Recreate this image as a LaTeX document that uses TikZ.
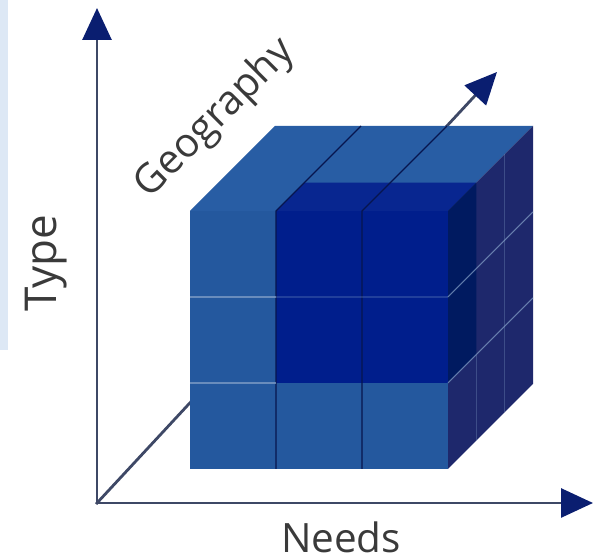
\documentclass[tikz,border=0pt]{standalone}
\usepackage{fontspec}
\setmainfont{Open Sans}
\usetikzlibrary{arrows.meta,positioning}

\definecolor{faceblue}{RGB}{36,88,158}
\definecolor{topblue}{RGB}{40,93,164}
\definecolor{sideblue}{RGB}{30,40,108}
\definecolor{deepblue}{RGB}{0,30,140}
\definecolor{deeptop}{RGB}{8,38,144}
\definecolor{deepside}{RGB}{0,26,96}
\definecolor{axisgray}{RGB}{62,72,102}
\definecolor{headblue}{RGB}{10,30,112}
\definecolor{stripblue}{RGB}{221,232,245}
\definecolor{labelgray}{RGB}{58,58,58}

\begin{document}
\begin{tikzpicture}
[line join=round,
axisline/.style={draw=axisgray, line width=1.6pt, line cap=rect, -{Triangle[length=6.4mm, width=5.8mm, color=headblue]}},
axislabel/.style={text=labelgray, font=\fontsize{23}{23}\selectfont, inner sep=0pt},
seam/.style={draw=headblue!70!black, line width=0.7pt},
glint/.style={draw=faceblue!55!white, line width=0.6pt, opacity=0.7}]

\useasboundingbox (0,0) rectangle (12.14,11.2);
\fill[stripblue] (0,4.2) rectangle (0.16,11.2);

\coordinate (origin) at (1.94,1.14);
\coordinate (typetip) at (1.94,11.04);
\coordinate (needstip) at (11.86,1.14);
\coordinate (geotip) at (9.94,9.76);
\draw[axisline] (origin) -- (typetip);
\draw[axisline] (origin) -- (needstip);
\draw[axisline] (origin) -- (geotip);

% whole cube
\fill[faceblue] (3.8,1.82) rectangle (8.96,6.98);
\fill[topblue] (3.8,6.98) -- (8.96,6.98) -- (10.66,8.68) -- (5.5,8.68) -- cycle;
\fill[sideblue] (8.96,1.82) -- (10.66,3.52) -- (10.66,8.68) -- (8.96,6.98) -- cycle;

% dark block
\fill[deepblue] (5.52,3.54) rectangle (8.96,6.98);
\fill[deeptop] (5.52,6.98) -- (8.96,6.98) -- (9.527,7.547) -- (6.087,7.547) -- cycle;
\fill[deepside] (8.96,3.54) -- (9.527,4.107) -- (9.527,7.547) -- (8.96,6.98) -- cycle;

\draw[seam] (5.52,1.82) -- (5.52,6.98) -- (7.22,8.68);
\draw[seam] (7.24,1.82) -- (7.24,6.98) -- (8.94,8.68);
\draw[glint] (3.8,3.54) -- (5.52,3.54);
\draw[glint] (3.8,5.26) -- (5.52,5.26);
\draw[glint, opacity=0.25] (5.52,5.26) -- (8.96,5.26);
\draw[glint] (8.96,5.26) -- (10.66,6.96);
\draw[glint] (8.96,3.54) -- (10.66,5.24);
\draw[glint, opacity=0.3] (9.527,2.387) -- (9.527,4.107);
\draw[glint, opacity=0.3] (10.093,2.953) -- (10.093,8.113);

\node[axislabel, rotate=90, font=\fontsize{25}{25}\selectfont] (typelabel) at (0.92,5.94) {Type};
\node[axislabel] (needslabel) at (6.82,0.46) {Needs};
\node[axislabel, rotate=45] (geolabel) at (4.3,8.82) {Geography};
\end{tikzpicture}
\end{document}
